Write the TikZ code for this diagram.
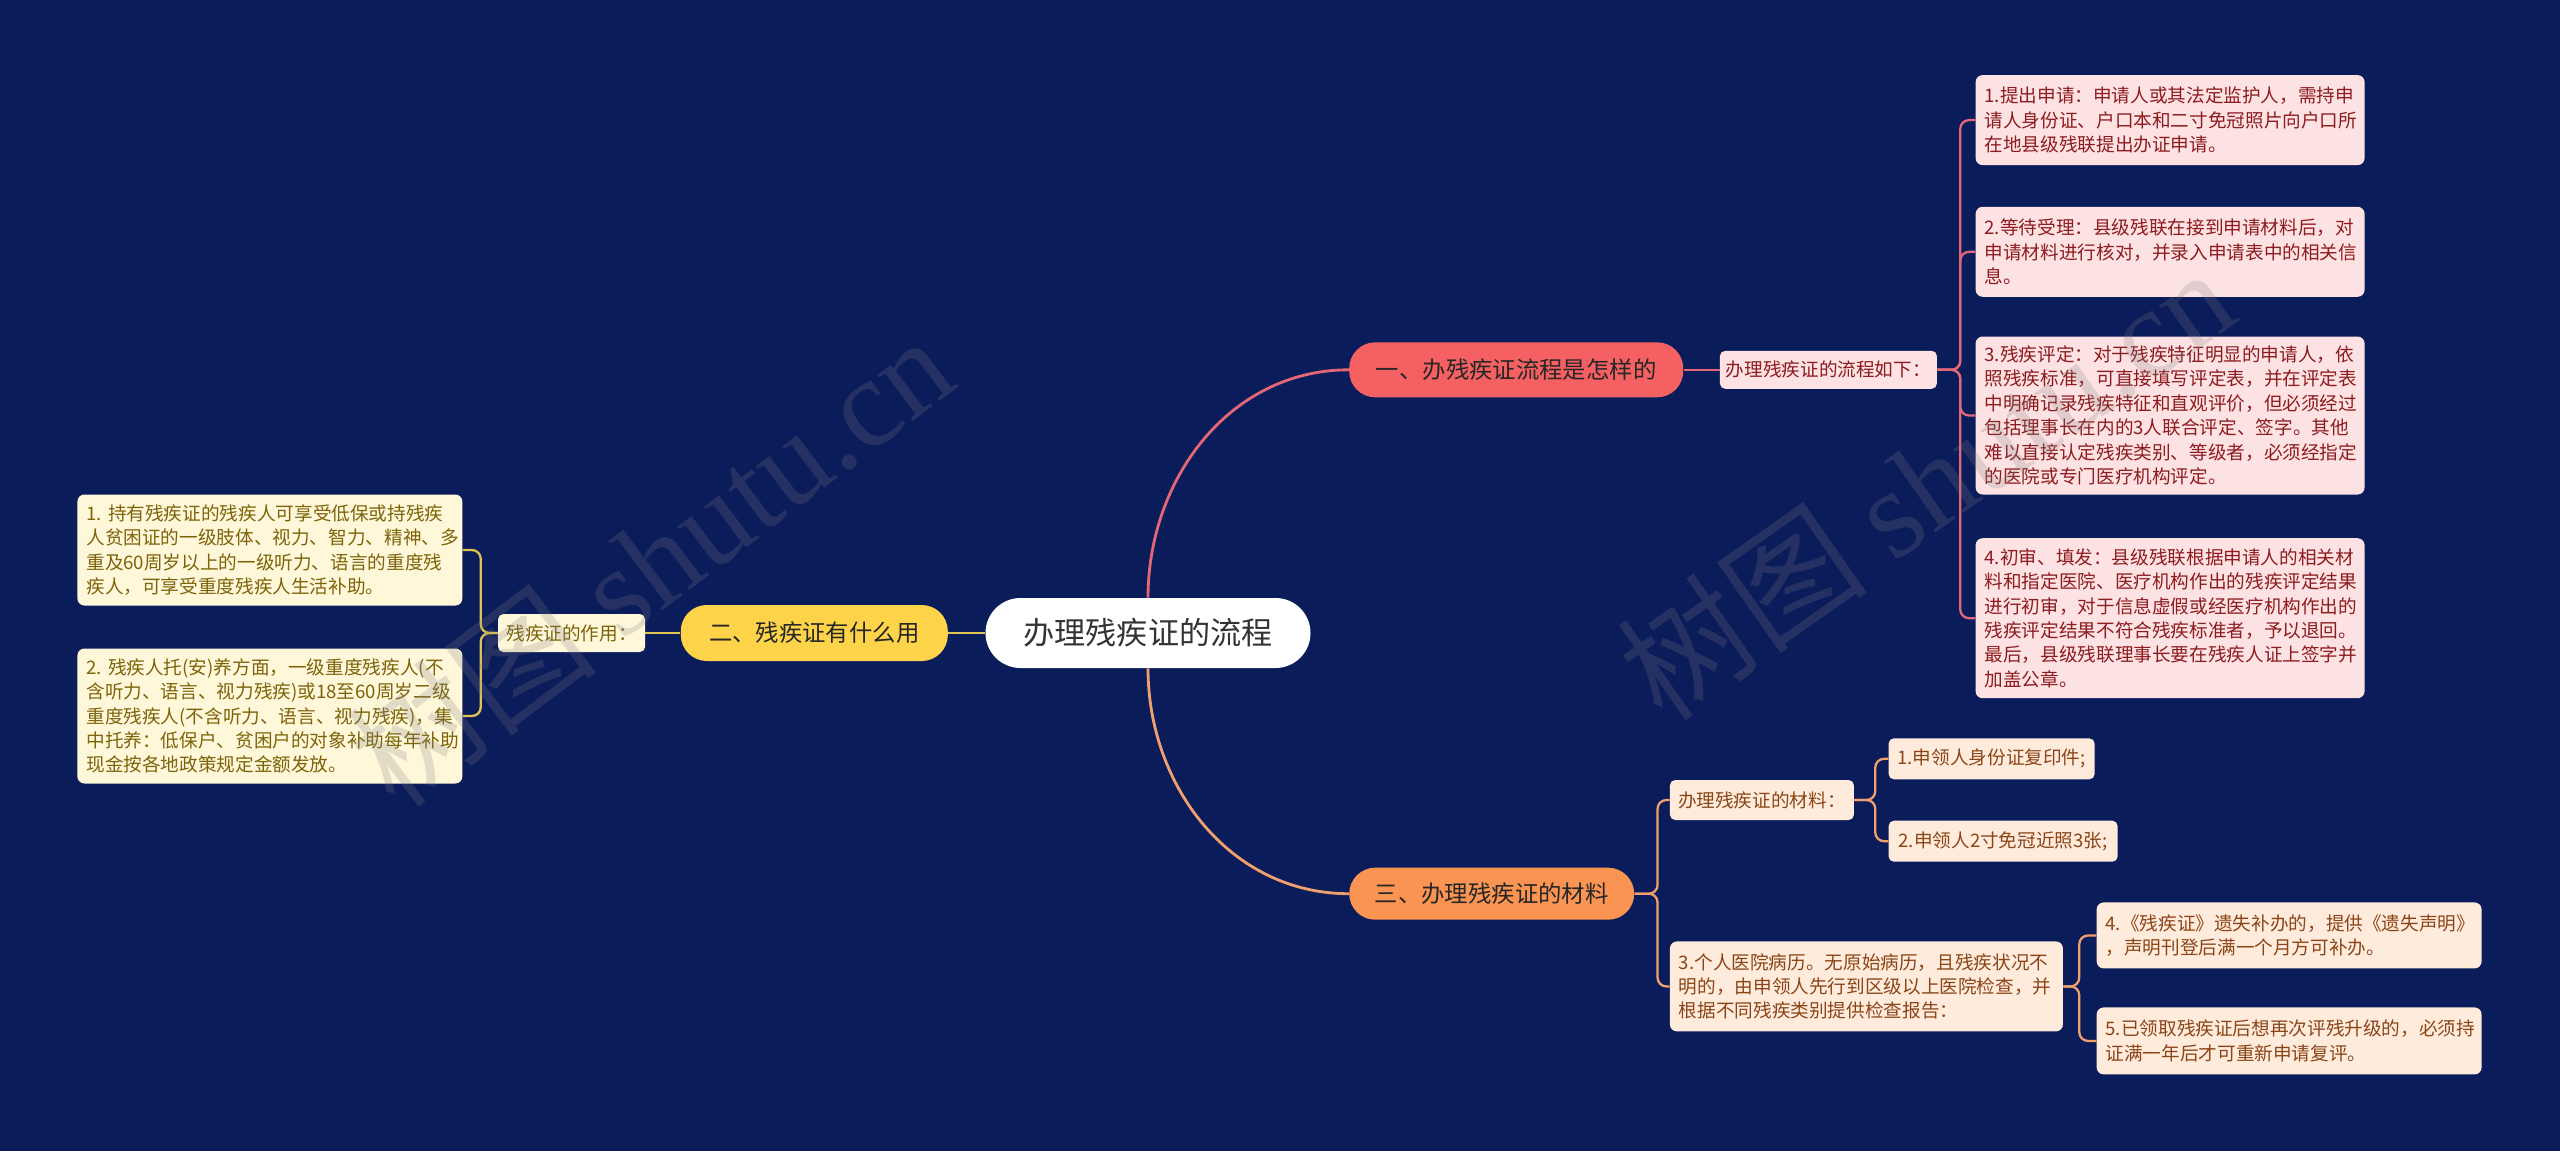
\documentclass[tikz,border=0pt]{standalone}
\usepackage{fontspec}
\setmainfont{Noto Sans CJK SC}
\newfontfamily\wmlatin{Liberation Serif}
\usetikzlibrary{positioning}

\definecolor{bgnavy}{RGB}{11,28,90}
\definecolor{redfill}{RGB}{245,96,98}
\definecolor{redline}{RGB}{226,104,120}
\definecolor{redleaf}{RGB}{253,226,227}
\definecolor{redtext}{RGB}{140,28,32}
\definecolor{yelfill}{RGB}{252,211,73}
\definecolor{yelline}{RGB}{222,196,80}
\definecolor{yelleaf}{RGB}{254,247,218}
\definecolor{yeltext}{RGB}{125,100,10}
\definecolor{orafill}{RGB}{250,148,82}
\definecolor{oraline}{RGB}{240,160,110}
\definecolor{oraleaf}{RGB}{254,235,220}
\definecolor{oratext}{RGB}{138,70,24}

\begin{document}
\begin{tikzpicture}[
    node distance=0.7cm,
    rootnode/.style={fill=white, text=black!80, rounded corners=0.7cm,
        minimum width=6.5cm, minimum height=1.4cm, font=\fontsize{17.7}{20}\selectfont},
    branch/.style={rounded corners=0.52cm, minimum height=1.1cm, text=black!85,
        font=\fontsize{13.3}{16}\selectfont},
    midbox/.style={rounded corners=3pt, minimum height=0.76cm, inner xsep=0.1cm,
        font=\fontsize{10.6}{13.9}\selectfont},
    leaf/.style={rounded corners=4pt, align=left, inner xsep=0.18cm,
        font=\fontsize{10.6}{13.9}\selectfont},
    redleafbox/.style={leaf, fill=redleaf, text=redtext, text width=7.42cm},
    yelleafbox/.style={leaf, fill=yelleaf, text=yeltext, text width=7.34cm},
    oraleafbox/.style={leaf, fill=oraleaf, text=oratext},
    link/.style={line width=1.6pt},
    fork/.style={line width=1.3pt, rounded corners=5pt},
    watermark/.style={text=gray, text opacity=0.22, font=\fontsize{72}{80}\selectfont}
]

\useasboundingbox (0,0) rectangle (51.2,-23.02);
\fill[bgnavy] (0,0) rectangle (51.2,-23.02);

% Root node
\node[rootnode] (root) at (22.96,-12.66) {办理残疾证的流程};

% Branch 1: process
\node[branch, fill=redfill, minimum width=6.68cm, above right=4cm and 0.76cm of root] (b1) {一、办残疾证流程是怎样的};
\node[midbox, fill=redleaf, text=redtext, minimum width=4.34cm, right=0.72cm of b1] (p0) {办理残疾证的流程如下：};
\node[redleafbox, minimum height=1.8cm, above right=3.7cm and 0.76cm of p0] (p1) {1.提出申请：申请人或其法定监护人，需持申\\请人身份证、户口本和二寸免冠照片向户口所\\在地县级残联提出办证申请。};
\node[redleafbox, minimum height=1.8cm, below=0.82cm of p1] (p2) {2.等待受理：县级残联在接到申请材料后，对\\申请材料进行核对，并录入申请表中的相关信\\息。};
\node[redleafbox, minimum height=3.16cm, below=0.78cm of p2] (p3) {3.残疾评定：对于残疾特征明显的申请人，依\\照残疾标准，可直接填写评定表，并在评定表\\中明确记录残疾特征和直观评价，但必须经过\\包括理事长在内的3人联合评定、签字。其他\\难以直接认定残疾类别、等级者，必须经指定\\的医院或专门医疗机构评定。};
\node[redleafbox, minimum height=3.2cm, below=0.86cm of p3] (p4) {4.初审、填发：县级残联根据申请人的相关材\\料和指定医院、医疗机构作出的残疾评定结果\\进行初审，对于信息虚假或经医疗机构作出的\\残疾评定结果不符合残疾标准者，予以退回。\\最后，县级残联理事长要在残疾人证上签字并\\加盖公章。};

% Branch 2: use
\node[branch, fill=yelfill, minimum width=5.34cm, minimum height=1.12cm, left=0.74cm of root] (b2) {二、残疾证有什么用};
\node[midbox, fill=yelleaf, text=yeltext, minimum width=2.94cm, left=0.7cm of b2] (y0) {残疾证的作用：};
\node[yelleafbox, minimum height=2.22cm, left=0.7cm of y0, yshift=1.66cm] (y1) {1.~持有残疾证的残疾人可享受低保或持残疾\\人贫困证的一级肢体、视力、智力、精神、多\\重及60周岁以上的一级听力、语言的重度残\\疾人，可享受重度残疾人生活补助。};
\node[yelleafbox, minimum height=2.7cm, left=0.7cm of y0, yshift=-1.66cm] (y2) {2.~残疾人托(安)养方面，一级重度残疾人(不\\含听力、语言、视力残疾)或18至60周岁二级\\重度残疾人(不含听力、语言、视力残疾)，集\\中托养：低保户、贫困户的对象补助每年补助\\现金按各地政策规定金额发放。};

% Branch 3: materials
\node[branch, fill=orafill, minimum width=5.7cm, minimum height=1.04cm, below right=3.98cm and 0.76cm of root] (b3) {三、办理残疾证的材料};
\node[midbox, fill=oraleaf, text=oratext, minimum width=3.68cm, minimum height=0.8cm, above right=0.94cm and 0.7cm of b3] (q0) {办理残疾证的材料：};
\node[midbox, fill=oraleaf, text=oratext, minimum width=4.12cm, minimum height=0.82cm, above right=0cm and 0.68cm of q0] (q1) {1.申领人身份证复印件;};
\node[midbox, fill=oraleaf, text=oratext, minimum width=4.58cm, minimum height=0.82cm, below right=0cm and 0.68cm of q0] (q2) {2.申领人2寸免冠近照3张;};
\node[oraleafbox, text width=7.5cm, minimum height=1.8cm, below right=0.42cm and 0.7cm of b3] (q3) {3.个人医院病历。无原始病历，且残疾状况不\\明的，由申领人先行到区级以上医院检查，并\\根据不同残疾类别提供检查报告：};
\node[oraleafbox, text width=7.34cm, minimum height=1.32cm, right=0.66cm of q3, yshift=1.02cm] (q4) {4.《残疾证》遗失补办的，提供《遗失声明》\\，声明刊登后满一个月方可补办。};
\node[oraleafbox, text width=7.34cm, minimum height=1.34cm, right=0.66cm of q3, yshift=-1.09cm] (q5) {5.已领取残疾证后想再次评残升级的，必须持\\证满一年后才可重新申请复评。};

% Connectors from the root
\draw[link, redline] (root.north) to[out=90, in=180] (b1.west);
\draw[link, oraline] (root.south) to[out=-90, in=180] (b3.west);
\draw[link, yelline] (root.west) -- (b2.east);

% Branch 1 forks
\draw[fork, redline] (b1.east) -- (p0.west);
\draw[fork, redline] (p0.east) -- ++(0.46,0) |- (p1.west);
\draw[fork, redline] (p0.east) -- ++(0.46,0) |- (p2.west);
\draw[fork, redline] (p0.east) -- ++(0.46,0) |- (p3.west);
\draw[fork, redline] (p0.east) -- ++(0.46,0) |- (p4.west);

% Branch 2 forks
\draw[fork, yelline] (b2.west) -- (y0.east);
\draw[fork, yelline] (y0.west) -- ++(-0.34,0) |- (y1.east);
\draw[fork, yelline] (y0.west) -- ++(-0.34,0) |- (y2.east);

% Branch 3 forks
\draw[fork, oraline] (b3.east) -- ++(0.46,0) |- (q0.west);
\draw[fork, oraline] (b3.east) -- ++(0.46,0) |- (q3.west);
\draw[fork, oraline] (q0.east) -- ++(0.42,0) |- (q1.west);
\draw[fork, oraline] (q0.east) -- ++(0.42,0) |- (q2.west);
\draw[fork, oraline] (q3.east) -- ++(0.32,0) |- (q4.west);
\draw[fork, oraline] (q3.east) -- ++(0.32,0) |- (q5.west);

% Watermarks
\node[watermark, rotate=37] (wm1) at (13.0,-11.2) {树图 {\wmlatin shutu.cn}};
\node[watermark, rotate=35] (wm2) at (38.5,-9.65) {树图 {\wmlatin shutu.cn}};

\end{tikzpicture}
\end{document}
